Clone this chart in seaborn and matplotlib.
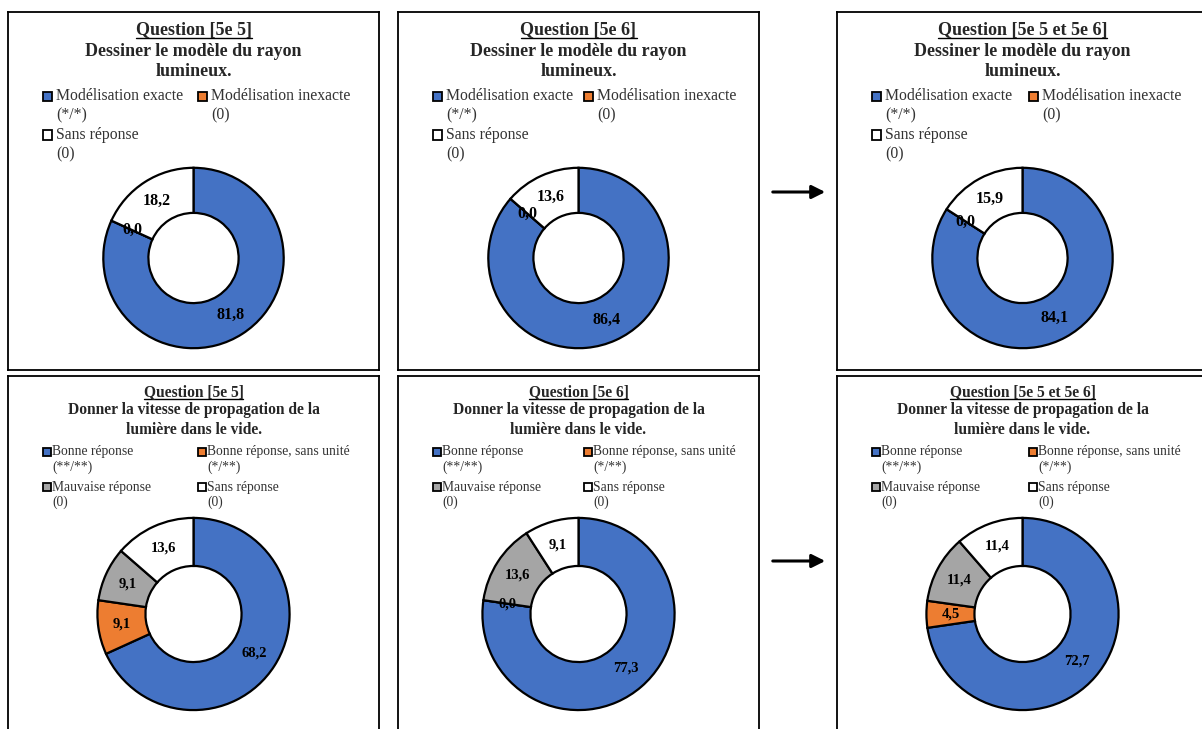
import matplotlib
matplotlib.use("Agg")
import matplotlib.pyplot as plt
import seaborn as sns
from matplotlib.patches import Rectangle, FancyArrowPatch
from matplotlib.lines import Line2D

# data (percentages)
groups = ["Question [5e 5]", "Question [5e 6]", "Question [5e 5 et 5e 6]"]

q1_title = ["Dessiner le modèle du rayon", "lumineux."]
q1_labels = ["Modélisation exacte", "Modélisation inexacte", "Sans réponse"]
q1_notes = ["(*/*)", "(0)", "(0)"]
q1_5e5 = [81.8, 0.0, 18.2]
q1_5e6 = [86.4, 0.0, 13.6]
q1_all = [84.1, 0.0, 15.9]

q2_title = ["Donner la vitesse de propagation de la", "lumière dans le vide."]
q2_labels = ["Bonne réponse", "Bonne réponse, sans unité", "Mauvaise réponse", "Sans réponse"]
q2_notes = ["(**/**)", "(*/**)", "(0)", "(0)"]
q2_5e5 = [68.2, 9.1, 9.1, 13.6]
q2_5e6 = [77.3, 0.0, 13.6, 9.1]
q2_all = [72.7, 4.5, 11.4, 11.4]

blue, orange, grey, white = "#4472C4", "#ED7D31", "#A5A5A5", "#FFFFFF"
q1_colors = [blue, orange, white]
q2_colors = [blue, orange, grey, white]

sns.set_style("white")
plt.rcParams["font.family"] = ["Liberation Serif", "DejaVu Serif"]

W, H = 1202, 729
fig = plt.figure(figsize=(W / 100, H / 100), dpi=100)


def fx(x):
    return x / W


def fy(y):
    return 1 - y / H


col_left = [8, 398, 837]
col_w = [371, 361, 371]
col2_dx = [190, 186, 192]
row_top = [12, 376]
row_h = [358, 360]
donut_cy = [258, 614]
donut_r = [92, 98]

rows = [
    dict(title=q1_title, labels=q1_labels, notes=q1_notes, colors=q1_colors,
         values=[q1_5e5, q1_5e6, q1_all], tsize=13, lsize=11.3, vsize=11.5,
         title_y=[19, 39, 60], leg_y=[84, 123], line2=19, sq=9, txt_dx=13,
         slots=[(0, 0), (1, 0), (0, 1)]),
    dict(title=q2_title, labels=q2_labels, notes=q2_notes, colors=q2_colors,
         values=[q2_5e5, q2_5e6, q2_all], tsize=11.2, lsize=9.8, vsize=10.5,
         title_y=[16.5, 34.5, 53.5], leg_y=[76, 111], line2=15, sq=8, txt_dx=9,
         slots=[(0, 0), (1, 0), (0, 1), (1, 1)]),
]

underlined = []

for r, spec in enumerate(rows):
    top = row_top[r]
    for c in range(3):
        left = col_left[c]
        pw = col_w[c]
        # panel frame
        pax = fig.add_axes([fx(left), fy(top + row_h[r]), pw / W, row_h[r] / H])
        pax.set_xticks([])
        pax.set_yticks([])
        for s in pax.spines.values():
            s.set_visible(True)
            s.set_color("black")
            s.set_linewidth(1.3)

        cx = left + pw / 2
        # titles
        t = fig.text(fx(cx), fy(top + spec["title_y"][0]), groups[c],
                     ha="center", va="center", fontsize=spec["tsize"], fontweight="bold")
        underlined.append(t)
        for line, ty in zip(spec["title"], spec["title_y"][1:]):
            fig.text(fx(cx), fy(top + ty), line, ha="center", va="center",
                     fontsize=spec["tsize"], fontweight="bold")

        # legend, Excel style: fixed columns
        sq = spec["sq"]
        for i, (lab, note) in enumerate(zip(spec["labels"], spec["notes"])):
            cl, rw = spec["slots"][i]
            sx = left + (35 if cl == 0 else col2_dx[c])
            sy = top + spec["leg_y"][rw]
            fig.add_artist(Rectangle((fx(sx), fy(sy + sq / 2)), sq / W, sq / H,
                                     transform=fig.transFigure, facecolor=spec["colors"][i],
                                     edgecolor="black", linewidth=1.3))
            fig.text(fx(sx + spec["txt_dx"]), fy(sy), lab, ha="left", va="center",
                     fontsize=spec["lsize"], color="#333333")
            fig.text(fx(sx + spec["txt_dx"]), fy(sy + spec["line2"]), note, ha="left",
                     va="center", fontsize=spec["lsize"], color="#333333")

        # donut
        R = donut_r[r]
        cy = donut_cy[r]
        ax = fig.add_axes([fx(cx - R), fy(cy + R), 2 * R / W, 2 * R / H])
        ax.pie(
            spec["values"][c], colors=spec["colors"], startangle=90, counterclock=False,
            radius=1, pctdistance=0.75,
            autopct=lambda p: f"{p:.1f}".replace(".", ","),
            wedgeprops=dict(width=0.5, edgecolor="black", linewidth=1.6),
            textprops=dict(fontsize=spec["vsize"], fontweight="bold", color="black"),
        )
        ax.set_xlim(-1.02, 1.02)
        ax.set_ylim(-1.02, 1.02)
        ax.set_aspect("equal")
        ax.axis("off")

# arrows between the second and third columns
for ay in [192, 561]:
    fig.add_artist(FancyArrowPatch((fx(770), fy(ay)), (fx(828), fy(ay)),
                                   transform=fig.transFigure, arrowstyle="-|>",
                                   mutation_scale=20, linewidth=2.2, color="black"))

# underline the "Question [...]" headers
fig.canvas.draw()
renderer = fig.canvas.get_renderer()
for t in underlined:
    bb = t.get_window_extent(renderer)
    fig.add_artist(Line2D([bb.x0 / W, bb.x1 / W], [(bb.y0 + 2) / H, (bb.y0 + 2) / H],
                          transform=fig.transFigure, color="black", linewidth=1.0))

fig.savefig("out.png", dpi=100)
